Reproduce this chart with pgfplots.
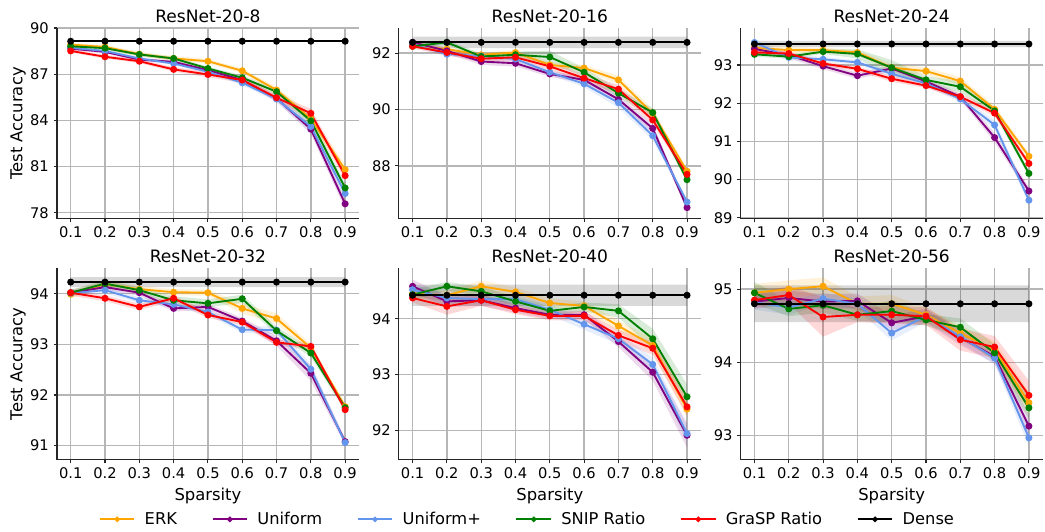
\documentclass[border=0pt]{standalone}
\usepackage{fontspec}
\setmainfont{DejaVu Sans}
\usepackage{pgfplots}
\pgfplotsset{compat=1.18}
\usepackage{pgfplotstable}
\usepgfplotslibrary{fillbetween}

\definecolor{cERK}{RGB}{255,165,0}
\definecolor{cUni}{RGB}{128,0,128}
\definecolor{cUnip}{RGB}{100,149,237}
\definecolor{cSnip}{RGB}{0,128,0}
\definecolor{cGrasp}{RGB}{255,0,0}
\definecolor{gridc}{RGB}{182,182,182}

% ResNet-20-8
\pgfplotstableread{
x   erk   erkE uni   uniE unip  unipE snip  snipE grasp graspE dense denseE
0.1 88.92 0.10 88.66 0.10 88.71 0.10 88.81 0.10 88.51 0.10 89.14 0.03
0.2 88.77 0.12 88.45 0.10 88.51 0.10 88.69 0.12 88.13 0.12 89.14 0.03
0.3 88.30 0.15 87.95 0.10 88.02 0.10 88.28 0.12 87.84 0.12 89.14 0.03
0.4 88.02 0.15 87.80 0.10 87.69 0.10 88.02 0.12 87.31 0.15 89.14 0.03
0.5 87.84 0.15 87.26 0.12 87.16 0.12 87.37 0.12 86.98 0.18 89.14 0.03
0.6 87.22 0.15 86.62 0.15 86.44 0.15 86.77 0.15 86.62 0.18 89.14 0.03
0.7 85.97 0.20 85.43 0.20 85.39 0.20 85.86 0.20 85.47 0.20 89.14 0.03
0.8 84.10 0.30 83.43 0.30 83.60 0.30 83.97 0.30 84.46 0.30 89.14 0.03
0.9 80.80 0.30 78.58 0.35 79.25 0.35 79.61 0.30 80.41 0.30 89.14 0.03
}\tA
% ResNet-20-16
\pgfplotstableread{
x   erk   erkE uni   uniE unip  unipE snip  snipE grasp graspE dense denseE
0.1 92.26 0.08 92.38 0.08 92.32 0.08 92.24 0.08 92.24 0.08 92.38 0.20
0.2 92.14 0.08 92.08 0.10 91.96 0.08 92.38 0.08 92.02 0.10 92.38 0.20
0.3 91.94 0.08 91.70 0.12 91.90 0.08 91.88 0.10 91.80 0.10 92.38 0.20
0.4 92.02 0.08 91.64 0.12 91.79 0.08 91.94 0.12 91.85 0.10 92.38 0.20
0.5 91.58 0.10 91.26 0.10 91.32 0.10 91.86 0.22 91.53 0.12 92.38 0.20
0.6 91.47 0.10 91.05 0.12 90.91 0.12 91.32 0.15 91.11 0.15 92.38 0.20
0.7 91.05 0.15 90.36 0.15 90.24 0.18 90.58 0.15 90.72 0.15 92.38 0.20
0.8 89.86 0.15 89.33 0.15 89.07 0.15 89.89 0.15 89.63 0.15 92.38 0.20
0.9 87.81 0.10 86.52 0.10 86.72 0.10 87.51 0.10 87.70 0.10 92.38 0.20
}\tB
% ResNet-20-24
\pgfplotstableread{
x   erk   erkE uni   uniE unip  unipE snip  snipE grasp graspE dense denseE
0.1 93.45 0.10 93.42 0.08 93.59 0.08 93.28 0.06 93.33 0.06 93.55 0.08
0.2 93.39 0.08 93.26 0.08 93.20 0.08 93.22 0.06 93.30 0.06 93.55 0.08
0.3 93.39 0.06 92.97 0.08 93.15 0.06 93.35 0.06 93.04 0.06 93.55 0.08
0.4 93.33 0.06 92.72 0.08 93.07 0.06 93.29 0.12 92.90 0.06 93.55 0.08
0.5 92.93 0.10 92.91 0.08 92.77 0.08 92.93 0.20 92.64 0.08 93.55 0.08
0.6 92.84 0.10 92.57 0.08 92.52 0.08 92.61 0.10 92.46 0.06 93.55 0.08
0.7 92.58 0.10 92.17 0.08 92.11 0.08 92.43 0.15 92.17 0.08 93.55 0.08
0.8 91.84 0.10 91.10 0.12 91.43 0.12 91.80 0.10 91.74 0.08 93.55 0.08
0.9 90.61 0.08 89.70 0.10 89.46 0.10 90.16 0.08 90.42 0.08 93.55 0.08
}\tC
% ResNet-20-32
\pgfplotstableread{
x   erk   erkE uni   uniE unip  unipE snip  snipE grasp graspE dense denseE
0.1 93.99 0.08 94.02 0.06 94.01 0.06 94.02 0.06 94.02 0.06 94.23 0.10
0.2 94.19 0.06 94.13 0.06 94.07 0.06 94.20 0.06 93.91 0.06 94.23 0.10
0.3 94.09 0.06 94.02 0.06 93.87 0.06 94.07 0.06 93.74 0.06 94.23 0.10
0.4 94.03 0.06 93.71 0.06 93.79 0.06 93.87 0.08 93.91 0.06 94.23 0.10
0.5 94.02 0.06 93.74 0.06 93.64 0.06 93.81 0.08 93.58 0.06 94.23 0.10
0.6 93.71 0.10 93.46 0.06 93.29 0.06 93.90 0.08 93.44 0.06 94.23 0.10
0.7 93.51 0.10 93.07 0.10 93.28 0.08 93.27 0.08 93.04 0.06 94.23 0.10
0.8 92.93 0.08 92.43 0.15 92.51 0.10 92.83 0.08 92.96 0.06 94.23 0.10
0.9 91.77 0.06 91.08 0.06 91.06 0.06 91.75 0.06 91.71 0.06 94.23 0.10
}\tD
% ResNet-20-40
\pgfplotstableread{
x   erk   erkE uni   uniE unip  unipE snip  snipE grasp graspE dense denseE
0.1 94.45 0.10 94.58 0.12 94.52 0.10 94.43 0.10 94.37 0.08 94.42 0.19
0.2 94.42 0.08 94.31 0.10 94.37 0.08 94.58 0.08 94.22 0.15 94.42 0.19
0.3 94.58 0.10 94.33 0.10 94.35 0.08 94.49 0.08 94.33 0.10 94.42 0.19
0.4 94.48 0.08 94.19 0.08 94.35 0.08 94.31 0.08 94.16 0.08 94.42 0.19
0.5 94.28 0.08 94.07 0.08 94.16 0.10 94.14 0.08 94.05 0.08 94.42 0.19
0.6 94.23 0.08 94.07 0.08 93.90 0.10 94.21 0.08 94.05 0.08 94.42 0.19
0.7 93.87 0.10 93.59 0.10 93.64 0.10 94.14 0.12 93.70 0.10 94.42 0.19
0.8 93.52 0.12 93.04 0.15 93.18 0.12 93.64 0.18 93.47 0.12 94.42 0.19
0.9 92.38 0.15 91.91 0.22 91.94 0.15 92.60 0.22 92.42 0.15 94.42 0.19
}\tE
% ResNet-20-56
\pgfplotstableread{
x   erk   erkE uni   uniE unip  unipE snip  snipE grasp graspE dense denseE
0.1 94.95 0.12 94.83 0.10 94.82 0.10 94.95 0.15 94.85 0.10 94.80 0.25
0.2 95.00 0.12 94.88 0.10 94.75 0.10 94.73 0.10 94.92 0.12 94.80 0.25
0.3 95.04 0.12 94.83 0.10 94.87 0.08 94.78 0.10 94.62 0.27 94.80 0.25
0.4 94.80 0.10 94.84 0.10 94.80 0.08 94.65 0.08 94.65 0.10 94.80 0.25
0.5 94.80 0.12 94.54 0.10 94.40 0.10 94.70 0.15 94.65 0.12 94.80 0.25
0.6 94.65 0.10 94.63 0.10 94.63 0.08 94.58 0.08 94.63 0.12 94.80 0.25
0.7 94.40 0.10 94.34 0.10 94.35 0.08 94.48 0.12 94.31 0.15 94.80 0.25
0.8 94.17 0.12 94.08 0.10 94.06 0.08 94.13 0.12 94.21 0.15 94.80 0.25
0.9 93.45 0.15 93.13 0.15 92.97 0.12 93.38 0.15 93.55 0.20 94.80 0.25
}\tF

\newcommand{\band}[3]{%
  \addplot[name path=U#2, draw=none, forget plot] table[x=x, y expr=\thisrow{#2}+\thisrow{#2E}] {#1};
  \addplot[name path=L#2, draw=none, forget plot] table[x=x, y expr=\thisrow{#2}-\thisrow{#2E}] {#1};
  \addplot[fill=#3, fill opacity=0.15, draw=none, forget plot] fill between[of=U#2 and L#2];
}
\newcommand{\allbands}[1]{%
  \band{#1}{erk}{cERK}\band{#1}{uni}{cUni}\band{#1}{unip}{cUnip}%
  \band{#1}{snip}{cSnip}\band{#1}{grasp}{cGrasp}\band{#1}{dense}{black}%
}
\newcommand{\alllines}[1]{%
  \addplot[cERK, ser] table[x=x, y=erk] {#1};
  \addplot[cUni, ser] table[x=x, y=uni] {#1};
  \addplot[cUnip, ser] table[x=x, y=unip] {#1};
  \addplot[cSnip, ser] table[x=x, y=snip] {#1};
  \addplot[cGrasp, ser] table[x=x, y=grasp] {#1};
  \addplot[black, ser] table[x=x, y=dense] {#1};
}

\pgfplotsset{
  panel/.style={
    scale only axis, width=226.5pt,
    xmin=0.06, xmax=0.94,
    xtick={0.1,0.2,0.3,0.4,0.5,0.6,0.7,0.8,0.9},
    xticklabels={0.1,0.2,0.3,0.4,0.5,0.6,0.7,0.8,0.9},
    axis x line*=bottom, axis y line*=left,
    axis line style={-, line width=0.8pt, black!85},
    tick align=outside, major tick length=2.6pt,
    tick style={black!85, line width=0.8pt},
    grid=major, major grid style={gridc, line width=1pt},
    /pgf/number format/assume math mode=true,
    every tick label/.append style={font=\fontsize{11}{13}\selectfont},
    title style={font=\fontsize{12.8}{15}\selectfont, yshift=-5.5pt},
    label style={font=\fontsize{12.3}{14}\selectfont},
    ylabel style={yshift=-3.5pt},
  },
  ser/.style={line width=1.4pt, mark=*, mark size=1.9pt, mark options={solid}},
}

\begin{document}
\begin{tikzpicture}
\path (0,0) rectangle (783.75pt,399pt);

\begin{axis}[panel, at={(42.75pt,234.75pt)}, anchor=south west, height=143.25pt,
  ymin=77.6, ymax=90, ytick={78,81,84,87,90},
  title={ResNet-20-8}, ylabel={Test Accuracy}]
\allbands{\tA}
\alllines{\tA}
\end{axis}

\begin{axis}[panel, at={(299.25pt,234.75pt)}, anchor=south west, height=143.25pt,
  ymin=86.12, ymax=92.89, ytick={88,90,92},
  title={ResNet-20-16}]
\allbands{\tB}
\alllines{\tB}
\end{axis}

\begin{axis}[panel, at={(555.75pt,234.75pt)}, anchor=south west, height=143.25pt,
  ymin=88.97, ymax=93.97, ytick={89,90,91,92,93},
  title={ResNet-20-24}]
\allbands{\tC}
\alllines{\tC}
\end{axis}

\begin{axis}[panel, at={(42.75pt,54pt)}, anchor=south west, height=144pt,
  ymin=90.72, ymax=94.51, ytick={91,92,93,94},
  title={ResNet-20-32}, ylabel={Test Accuracy}, xlabel={Sparsity}]
\allbands{\tD}
\alllines{\tD}
\end{axis}

\begin{axis}[panel, at={(299.25pt,54pt)}, anchor=south west, height=144pt,
  ymin=91.47, ymax=94.91, ytick={92,93,94},
  title={ResNet-20-40}, xlabel={Sparsity},
  legend columns=6,
  legend style={at={(0.427,-0.31)}, anchor=center, draw=none, fill=none,
    font=\fontsize{12.2}{14}\selectfont,
    /tikz/every odd column/.append style={column sep=5pt},
    /tikz/every even column/.append style={column sep=24pt}},
  legend image code/.code={\draw[#1, mark size=1.3pt, mark repeat=2, mark phase=2] plot coordinates {(0pt,0pt) (13pt,0pt) (26pt,0pt)};}]
\allbands{\tE}
\alllines{\tE}
\legend{ERK, Uniform, Uniform+, SNIP Ratio, GraSP Ratio, Dense}
\end{axis}

\begin{axis}[panel, at={(555.75pt,54pt)}, anchor=south west, height=144pt,
  ymin=92.67, ymax=95.29, ytick={93,94,95},
  title={ResNet-20-56}, xlabel={Sparsity}]
\allbands{\tF}
\alllines{\tF}
\end{axis}
\end{tikzpicture}
\end{document}
